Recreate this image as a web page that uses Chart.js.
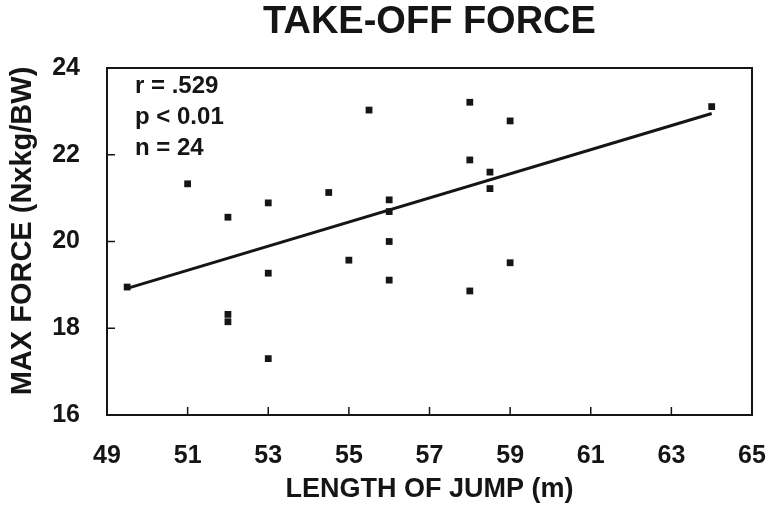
<!DOCTYPE html>
<html>
<head>
<meta charset="utf-8">
<title>Take-off force</title>
<script src="https://cdn.jsdelivr.net/npm/chart.js@4"></script>
<style>
  html, body { margin: 0; padding: 0; background: #fff; }
  #wrap { width: 769px; height: 508px; }
</style>
</head>
<body>
<div id="wrap"><canvas id="c" width="769" height="508"></canvas></div>
<script>
// Jump length (m) and peak take-off force (N x kg / BW) for each athlete
const jumpLength = [49.5, 51, 52, 52, 52, 53, 53, 53, 54.5, 55, 55.5, 56, 56, 56, 56, 58, 58, 58, 58.5, 58.5, 59, 59, 64];
const maxForce   = [18.95, 21.33, 20.56, 18.32, 18.15, 20.89, 19.27, 17.30, 21.13, 19.57, 23.03, 20.96, 20.69, 20.0, 19.11, 23.21, 21.88, 18.86, 21.6, 21.22, 22.78, 19.51, 23.11];

// Fitted regression line end points
const fitX = [49.5, 64];
const fitY = [18.92, 22.95];

const xTicks = [49, 51, 53, 55, 57, 59, 61, 63, 65];
const yTicks = [16, 18, 20, 22, 24];

const chartTitle = 'TAKE-OFF FORCE';
const yTitle = 'MAX FORCE (Nxkg/BW)';
const xTitle = 'LENGTH OF JUMP (m)';
const statsLines = ['r = .529', 'p < 0.01', 'n = 24'];

const INK = '#151515';
const FONT = '"Liberation Sans", Arial, Helvetica, sans-serif';

const points = jumpLength.map((x, i) => ({ x: x, y: maxForce[i] }));
const fitLine = fitX.map((x, i) => ({ x: x, y: fitY[i] }));

// Frame around the plot with inward tick marks, the titles and the stats block
const framePlugin = {
  id: 'frame',
  afterDraw(chart) {
    const { ctx, chartArea: a, scales } = chart;
    ctx.save();
    ctx.strokeStyle = INK;
    ctx.lineWidth = 2;
    ctx.strokeRect(a.left, a.top, a.right - a.left, a.bottom - a.top);
    ctx.lineWidth = 1.5;
    ctx.beginPath();
    xTicks.forEach(v => {
      const px = scales.x.getPixelForValue(v);
      ctx.moveTo(px, a.bottom);
      ctx.lineTo(px, a.bottom - 8);
    });
    yTicks.forEach(v => {
      const py = scales.y.getPixelForValue(v);
      ctx.moveTo(a.left, py);
      ctx.lineTo(a.left + 8, py);
    });
    ctx.stroke();

    ctx.fillStyle = INK;
    ctx.textBaseline = 'middle';

    // chart title, centred over the plot area
    ctx.textAlign = 'center';
    ctx.font = 'bold 38px ' + FONT;
    ctx.fillText(chartTitle, (a.left + a.right) / 2, 23);

    // vertical axis title
    ctx.save();
    ctx.translate(23, 231);
    ctx.rotate(-Math.PI / 2);
    ctx.font = 'bold 29px ' + FONT;
    ctx.fillText(yTitle, 0, 0);
    ctx.restore();

    // correlation statistics
    ctx.textAlign = 'left';
    ctx.font = 'bold 24px ' + FONT;
    statsLines.forEach((t, i) => {
      ctx.fillText(t, a.left + 28, a.top + 18 + i * 31);
    });
    ctx.restore();
  }
};

new Chart(document.getElementById('c'), {
  type: 'scatter',
  data: {
    datasets: [
      {
        label: 'Athletes',
        data: points,
        pointStyle: 'rect',
        pointRadius: 4.8,
        pointHoverRadius: 4.8,
        backgroundColor: INK,
        borderColor: INK,
        borderWidth: 0
      },
      {
        label: 'Regression',
        type: 'line',
        data: fitLine,
        showLine: true,
        borderColor: INK,
        borderWidth: 3,
        pointRadius: 0,
        fill: false
      }
    ]
  },
  options: {
    responsive: false,
    animation: false,
    devicePixelRatio: 1,
    layout: { padding: { left: 0, right: 17, top: 68, bottom: 0 } },
    plugins: {
      legend: { display: false },
      tooltip: { enabled: false },
      title: { display: false }
    },
    scales: {
      x: {
        type: 'linear',
        min: 49,
        max: 65,
        afterBuildTicks(scale) { scale.ticks = xTicks.map(v => ({ value: v })); },
        afterFit(scale) {
          scale.height = 93;
          scale.paddingLeft = 0;
          scale.paddingRight = 0;
        },
        grid: { display: false, drawTicks: false },
        border: { display: false },
        ticks: {
          color: INK,
          padding: 26,
          font: { family: FONT, size: 25, weight: 'bold' },
          maxRotation: 0,
          autoSkip: false
        },
        title: {
          display: true,
          text: xTitle,
          color: INK,
          font: { family: FONT, size: 27, weight: 'bold', lineHeight: 1.2 },
          padding: { top: 0, bottom: 2 }
        }
      },
      y: {
        type: 'linear',
        min: 16,
        max: 24,
        afterBuildTicks(scale) { scale.ticks = yTicks.map(v => ({ value: v })); },
        afterFit(scale) {
          scale.width = 107;
          scale.paddingTop = 0;
          scale.paddingBottom = 0;
        },
        grid: { display: false, drawTicks: false },
        border: { display: false },
        ticks: {
          color: INK,
          padding: 27,
          font: { family: FONT, size: 25, weight: 'bold' },
          autoSkip: false
        }
      }
    }
  },
  plugins: [framePlugin]
});
</script>
</body>
</html>
